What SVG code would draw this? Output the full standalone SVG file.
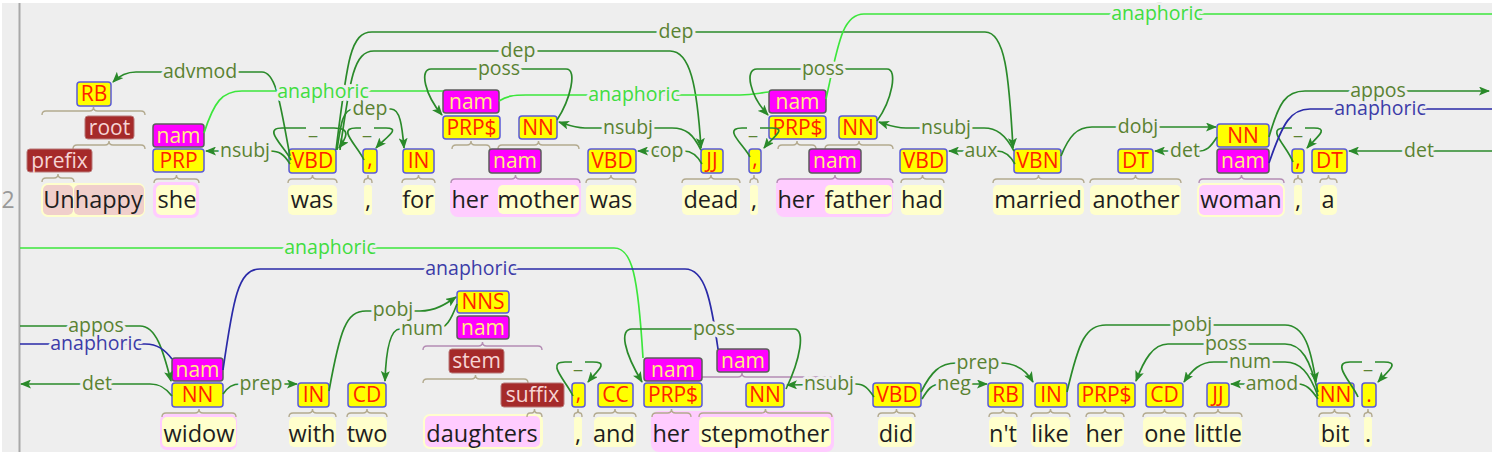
<svg xmlns="http://www.w3.org/2000/svg" width="1496" height="456" viewBox="0 0 1496 456">
<defs>
<marker id="ag" markerUnits="userSpaceOnUse" markerWidth="11" markerHeight="9" refX="10" refY="4.5" orient="auto">
<path d="M0,0 L11,4.5 L0,9 L2.5,4.5 z" fill="#2a8a2a"/>
</marker>
</defs>
<style>
.tok{font-family:"Open Sans","DejaVu Sans",sans-serif;font-size:23.5px;fill:#1e1e1e;text-anchor:middle}
.bg{fill:#ffffcc}
.pk{fill:#ffccff}
.sal{fill:#f0cfcb}
.py{fill:#ffff00;stroke:#5a5ad8;stroke-width:1.5}
.nm{fill:#ff00ff;stroke:#5c5c5c;stroke-width:1.5}
.brn{fill:#a52a2a;stroke:#b87878;stroke-width:1}
.pt{font-family:"Open Sans","DejaVu Sans",sans-serif;font-size:21px;fill:#ff2200;text-anchor:middle}
.nt{fill:#ffee80}
.bt{fill:#f6d4d4}
.brk{fill:none;stroke:#b3aa8e;stroke-width:1.4}
.brp{fill:none;stroke:#b48cb4;stroke-width:1.4}
.arc{fill:none;stroke:#2a8a2a;stroke-width:1.7}
.ana{fill:none;stroke:#3ce63c;stroke-width:1.7}
.anb{fill:none;stroke:#2a2aa8;stroke-width:1.7}
.lab{font-family:"Open Sans","DejaVu Sans",sans-serif;font-size:19.5px;fill:#5a8232;text-anchor:middle;paint-order:stroke;stroke:#eeeeee;stroke-width:6;stroke-linejoin:round}
.lg{fill:#40dd40}
.lb{fill:#3c3ca8}
.gap{fill:#eeeeee}
</style>
<rect x="0" y="0" width="1496" height="456" fill="#ffffff"/>
<rect x="2" y="3" width="1490" height="449" fill="#eeeeee"/>
<line x1="19.5" y1="3" x2="19.5" y2="452" stroke="#a8a8a8" stroke-width="2"/>
<text x="8" y="208" style="font-family:'Open Sans','DejaVu Sans',sans-serif;font-size:23px;fill:#999;text-anchor:middle">2</text>

<g id="nodes">
<g id="t-unhappy">
<rect x="41" y="183" width="104" height="34" rx="7" class="bg"/>
<rect x="43" y="185" width="30" height="30" rx="5" class="sal"/>
<rect x="74" y="185" width="70" height="30" rx="5" class="sal"/>
<path class="brk" d="M42,182 Q42,178 46,178 L54,178 Q58,178 58,174 Q58,178 62,178 L70,178 Q74,178 74,182"/>
<path class="brk" d="M73,149 Q73,145 77,145 L105,145 Q109,145 109,141 Q109,145 113,145 L141,145 Q145,145 145,149"/>
<path class="brk" d="M42,115 Q42,111 46,111 L89.5,111 Q93.5,111 93.5,107 Q93.5,111 97.5,111 L141,111 Q145,111 145,115"/>
<rect x="77" y="82" width="34" height="24" rx="3" class="py"/><text x="94" y="101" class="pt">RB</text>
<rect x="85" y="116" width="49" height="23" rx="3" class="brn"/><text x="109.5" y="134.5" class="pt bt">root</text>
<rect x="27" y="149" width="65" height="23" rx="3" class="brn"/><text x="59.5" y="167.5" class="pt bt">prefix</text>
<text x="93" y="208" class="tok">Unhappy</text>
</g>
<g id="t-she">
<rect x="153" y="182" width="46" height="36" rx="7" class="pk"/>
<rect x="156" y="185" width="40" height="30" rx="5" class="bg"/>
<path class="brk" d="M154,183 Q154,179 158,179 L172.5,179 Q176.5,179 176.5,175 Q176.5,179 180.5,179 L195,179 Q199,179 199,183"/>
<rect x="153" y="124" width="51" height="23" rx="3" class="nm"/><text x="178.5" y="142.5" class="pt nt">nam</text>
<rect x="153" y="149" width="51" height="23" rx="3" class="py"/><text x="178.5" y="167.5" class="pt">PRP</text>
<text x="177" y="208" class="tok">she</text>
</g>
<g id="t-was1">
<rect x="288" y="185" width="49" height="30" rx="5" class="bg"/>
<path class="brk" d="M288,183 Q288,179 292,179 L308.5,179 Q312.5,179 312.5,175 Q312.5,179 316.5,179 L333,179 Q337,179 337,183"/>
<rect x="289" y="149" width="47" height="24" rx="3" class="py"/><text x="312.5" y="168" class="pt">VBD</text>
<text x="312" y="208" class="tok">was</text>
</g>
<g id="t-comma1">
<rect x="364" y="185" width="8" height="30" rx="3" class="bg"/>
<path class="brk" d="M364,183 Q364,179 366,179 Q368,179 368,175 Q368,179 370,179 Q372,179 372,183"/>
<rect x="363" y="149" width="14" height="24" rx="3" class="py"/><text x="370" y="166" class="pt">,</text>
<text x="368" y="208" class="tok">,</text>
</g>
<g id="t-for">
<rect x="402" y="185" width="33" height="30" rx="5" class="bg"/>
<path class="brk" d="M402,183 Q402,179 406,179 L414.5,179 Q418.5,179 418.5,175 Q418.5,179 422.5,179 L431,179 Q435,179 435,183"/>
<rect x="403" y="149" width="31" height="24" rx="3" class="py"/><text x="418.5" y="168" class="pt">IN</text>
<text x="418" y="208" class="tok">for</text>
</g>
<g id="t-hermother">
<rect x="450" y="178" width="131" height="39" rx="8" class="pk"/>
<rect x="498" y="185" width="81" height="29" rx="5" class="bg"/>
<path class="brk" d="M452,149 Q452,145 456,145 L467,145 Q471,145 471,141 Q471,145 475,145 L486,145 Q490,145 490,149"/>
<path class="brk" d="M498,149 Q498,145 502,145 L534.5,145 Q538.5,145 538.5,141 Q538.5,145 542.5,145 L575,145 Q579,145 579,149"/>
<path class="brp" d="M451,183 Q451,179 455,179 L511.5,179 Q515.5,179 515.5,175 Q515.5,179 519.5,179 L576,179 Q580,179 580,183"/>
<rect x="443" y="90" width="56" height="23" rx="3" class="nm"/><text x="471" y="108.5" class="pt nt">nam</text>
<rect x="443" y="116" width="57" height="23" rx="3" class="py"/><text x="471.5" y="134.5" class="pt">PRP$</text>
<rect x="519" y="116" width="38" height="23" rx="3" class="py"/><text x="538" y="134.5" class="pt">NN</text>
<rect x="489" y="149" width="52" height="24" rx="3" class="nm"/><text x="515" y="168" class="pt nt">nam</text>
<text x="470" y="208" class="tok">her</text>
<text x="538" y="208" class="tok">mother</text>
</g>
<g id="t-was2">
<rect x="586" y="185" width="50" height="30" rx="5" class="bg"/>
<path class="brk" d="M586,183 Q586,179 590,179 L607,179 Q611,179 611,175 Q611,179 615,179 L632,179 Q636,179 636,183"/>
<rect x="588" y="149" width="48" height="24" rx="3" class="py"/><text x="612" y="168" class="pt">VBD</text>
<text x="611" y="208" class="tok">was</text>
</g>
<g id="t-dead">
<rect x="682" y="185" width="58" height="30" rx="5" class="bg"/>
<path class="brk" d="M682,183 Q682,179 686,179 L707,179 Q711,179 711,175 Q711,179 715,179 L736,179 Q740,179 740,183"/>
<rect x="701" y="149" width="22" height="24" rx="3" class="py"/><text x="712" y="168" class="pt">JJ</text>
<text x="711" y="208" class="tok">dead</text>
</g>
<g id="t-comma2">
<rect x="750" y="185" width="8" height="30" rx="3" class="bg"/>
<path class="brk" d="M750,183 Q750,179 752,179 Q754,179 754,175 Q754,179 756,179 Q758,179 758,183"/>
<rect x="749" y="149" width="12" height="24" rx="3" class="py"/><text x="755" y="166" class="pt">,</text>
<text x="754" y="208" class="tok">,</text>
</g>
<g id="t-herfather">
<rect x="776" y="178" width="117" height="39" rx="8" class="pk"/>
<rect x="825" y="185" width="67" height="29" rx="5" class="bg"/>
<path class="brk" d="M778,149 Q778,145 782,145 L793,145 Q797,145 797,141 Q797,145 801,145 L812,145 Q816,145 816,149"/>
<path class="brk" d="M825,149 Q825,145 829,145 L855,145 Q859,145 859,141 Q859,145 863,145 L889,145 Q893,145 893,149"/>
<path class="brp" d="M777,183 Q777,179 781,179 L831,179 Q835,179 835,175 Q835,179 839,179 L889,179 Q893,179 893,183"/>
<rect x="769" y="90" width="57" height="23" rx="3" class="nm"/><text x="797.5" y="108.5" class="pt nt">nam</text>
<rect x="769" y="116" width="57" height="23" rx="3" class="py"/><text x="797.5" y="134.5" class="pt">PRP$</text>
<rect x="839" y="116" width="38" height="23" rx="3" class="py"/><text x="858" y="134.5" class="pt">NN</text>
<rect x="809" y="149" width="52" height="24" rx="3" class="nm"/><text x="835" y="168" class="pt nt">nam</text>
<text x="796" y="208" class="tok">her</text>
<text x="858" y="208" class="tok">father</text>
</g>
<g id="t-had">
<rect x="901" y="185" width="43" height="30" rx="5" class="bg"/>
<path class="brk" d="M901,183 Q901,179 905,179 L918.5,179 Q922.5,179 922.5,175 Q922.5,179 926.5,179 L940,179 Q944,179 944,183"/>
<rect x="900" y="149" width="47" height="24" rx="3" class="py"/><text x="923.5" y="168" class="pt">VBD</text>
<text x="922" y="208" class="tok">had</text>
</g>
<g id="t-married">
<rect x="993" y="185" width="91" height="30" rx="5" class="bg"/>
<path class="brk" d="M993,183 Q993,179 997,179 L1034.5,179 Q1038.5,179 1038.5,175 Q1038.5,179 1042.5,179 L1080,179 Q1084,179 1084,183"/>
<rect x="1014" y="149" width="47" height="24" rx="3" class="py"/><text x="1037.5" y="168" class="pt">VBN</text>
<text x="1038" y="208" class="tok">married</text>
</g>
<g id="t-another">
<rect x="1090" y="185" width="91" height="30" rx="5" class="bg"/>
<path class="brk" d="M1090,183 Q1090,179 1094,179 L1131.5,179 Q1135.5,179 1135.5,175 Q1135.5,179 1139.5,179 L1177,179 Q1181,179 1181,183"/>
<rect x="1118" y="149" width="35" height="24" rx="3" class="py"/><text x="1135.5" y="168" class="pt">DT</text>
<text x="1136" y="208" class="tok">another</text>
</g>
<g id="t-woman">
<rect x="1197" y="183" width="88" height="34" rx="7" class="bg"/>
<rect x="1199" y="185" width="84" height="30" rx="5" class="pk"/>
<path class="brp" d="M1199,183 Q1199,179 1203,179 L1237.5,179 Q1241.5,179 1241.5,175 Q1241.5,179 1245.5,179 L1280,179 Q1284,179 1284,183"/>
<rect x="1217" y="124" width="52" height="23" rx="3" class="py"/><text x="1243" y="142.5" class="pt">NN</text>
<rect x="1217" y="149" width="52" height="24" rx="3" class="nm"/><text x="1243" y="168" class="pt nt">nam</text>
<text x="1241" y="208" class="tok">woman</text>
</g>
<g id="t-comma3">
<rect x="1294" y="185" width="8" height="30" rx="3" class="bg"/>
<path class="brk" d="M1294,183 Q1294,179 1296,179 Q1298,179 1298,175 Q1298,179 1300,179 Q1302,179 1302,183"/>
<rect x="1292" y="149" width="12" height="24" rx="3" class="py"/><text x="1298" y="166" class="pt">,</text>
<text x="1298" y="208" class="tok">,</text>
</g>
<g id="t-a">
<rect x="1320" y="185" width="17" height="30" rx="5" class="bg"/>
<path class="brk" d="M1320,183 Q1320,179 1323,179 L1325.5,179 Q1328.5,179 1328.5,175 Q1328.5,179 1331.5,179 L1334,179 Q1337,179 1337,183"/>
<rect x="1312" y="149" width="35" height="24" rx="3" class="py"/><text x="1329.5" y="168" class="pt">DT</text>
<text x="1328" y="208" class="tok">a</text>
</g>

<g id="t-widow">
<rect x="160" y="414" width="77" height="36" rx="7" class="pk"/>
<rect x="162" y="417" width="74" height="30" rx="5" class="bg"/>
<path class="brk" d="M162,417 Q162,413 166,413 L195,413 Q199,413 199,409 Q199,413 203,413 L232,413 Q236,413 236,417"/>
<rect x="172" y="358" width="51" height="23" rx="3" class="nm"/><text x="197.5" y="376.5" class="pt nt">nam</text>
<rect x="172" y="383" width="51" height="24" rx="3" class="py"/><text x="197.5" y="402" class="pt">NN</text>
<text x="199" y="442" class="tok">widow</text>
</g>
<g id="t-with">
<rect x="289" y="417" width="47" height="30" rx="5" class="bg"/>
<path class="brk" d="M289,417 Q289,413 293,413 L308.5,413 Q312.5,413 312.5,409 Q312.5,413 316.5,413 L332,413 Q336,413 336,417"/>
<rect x="298" y="383" width="31" height="24" rx="3" class="py"/><text x="313.5" y="402" class="pt">IN</text>
<text x="312" y="442" class="tok">with</text>
</g>
<g id="t-two">
<rect x="347" y="417" width="40" height="30" rx="5" class="bg"/>
<path class="brk" d="M347,417 Q347,413 351,413 L363,413 Q367,413 367,409 Q367,413 371,413 L383,413 Q387,413 387,417"/>
<rect x="348" y="383" width="38" height="24" rx="3" class="py"/><text x="367" y="402" class="pt">CD</text>
<text x="367" y="442" class="tok">two</text>
</g>
<g id="t-daughters">
<rect x="423" y="414" width="120" height="35" rx="7" class="bg"/>
<rect x="425" y="416" width="115" height="31" rx="5" class="pk"/>
<path class="brp" d="M423,350 Q423,346 427,346 L478.5,346 Q482.5,346 482.5,342 Q482.5,346 486.5,346 L538,346 Q542,346 542,350"/>
<path class="brk" d="M423,383 Q423,379 427,379 L471.5,379 Q475.5,379 475.5,375 Q475.5,379 479.5,379 L524,379 Q528,379 528,383"/>
<path class="brk" d="M527,417 Q527,413 530,413 L531.5,413 Q534.5,413 534.5,409 Q534.5,413 537.5,413 L539,413 Q542,413 542,417"/>
<rect x="457" y="291" width="52" height="22" rx="3" class="py"/><text x="483" y="309" class="pt">NNS</text>
<rect x="457" y="316" width="52" height="23" rx="3" class="nm"/><text x="483" y="334.5" class="pt nt">nam</text>
<rect x="449" y="349" width="55" height="24" rx="3" class="brn"/><text x="476.5" y="368" class="pt bt">stem</text>
<rect x="501" y="383" width="63" height="24" rx="3" class="brn"/><text x="532.5" y="402" class="pt bt">suffix</text>
<text x="482" y="442" class="tok">daughters</text>
</g>
<g id="t-comma4">
<rect x="574" y="417" width="8" height="30" rx="3" class="bg"/>
<path class="brk" d="M574,417 Q574,413 576,413 Q578,413 578,409 Q578,413 580,413 Q582,413 582,417"/>
<rect x="572" y="383" width="13" height="24" rx="3" class="py"/><text x="578.5" y="400" class="pt">,</text>
<text x="578" y="442" class="tok">,</text>
</g>
<g id="t-and">
<rect x="594" y="417" width="42" height="30" rx="5" class="bg"/>
<path class="brk" d="M594,417 Q594,413 598,413 L611,413 Q615,413 615,409 Q615,413 619,413 L632,413 Q636,413 636,417"/>
<rect x="598" y="383" width="35" height="24" rx="3" class="py"/><text x="615.5" y="402" class="pt">CC</text>
<text x="614" y="442" class="tok">and</text>
</g>
<g id="t-herstepmother">
<rect x="651" y="411" width="183" height="41" rx="8" class="pk"/>
<rect x="699" y="417" width="132" height="30" rx="5" class="bg"/>
<path class="brk" d="M652,417 Q652,413 656,413 L667.5,413 Q671.5,413 671.5,409 Q671.5,413 675.5,413 L687,413 Q691,413 691,417"/>
<path class="brp" d="M651,381 Q651,377 655,377 L738,377 Q742,377 742,373 Q742,377 746,377 L829,377 Q833,377 833,381"/>
<path class="brk" d="M699,417 Q699,413 703,413 L761.5,413 Q765.5,413 765.5,409 Q765.5,413 769.5,413 L828,413 Q832,413 832,417"/>
<rect x="644" y="358" width="58" height="23" rx="3" class="nm"/><text x="673" y="376.5" class="pt nt">nam</text>
<rect x="644" y="383" width="58" height="24" rx="3" class="py"/><text x="673" y="402" class="pt">PRP$</text>
<rect x="717" y="349" width="52" height="23" rx="3" class="nm"/><text x="743" y="367.5" class="pt nt">nam</text>
<rect x="746" y="383" width="38" height="24" rx="3" class="py"/><text x="765" y="402" class="pt">NN</text>
<text x="671" y="442" class="tok">her</text>
<text x="765" y="442" class="tok">stepmother</text>
</g>
<g id="t-did">
<rect x="878" y="417" width="37" height="30" rx="5" class="bg"/>
<path class="brk" d="M878,417 Q878,413 882,413 L892.5,413 Q896.5,413 896.5,409 Q896.5,413 900.5,413 L911,413 Q915,413 915,417"/>
<rect x="873" y="383" width="48" height="24" rx="3" class="py"/><text x="897" y="402" class="pt">VBD</text>
<text x="896" y="442" class="tok">did</text>
</g>
<g id="t-nt">
<rect x="989" y="417" width="28" height="30" rx="5" class="bg"/>
<path class="brk" d="M989,417 Q989,413 993,413 L999,413 Q1003,413 1003,409 Q1003,413 1007,413 L1013,413 Q1017,413 1017,417"/>
<rect x="988" y="383" width="35" height="24" rx="3" class="py"/><text x="1005.5" y="402" class="pt">RB</text>
<text x="1003" y="442" class="tok">n't</text>
</g>
<g id="t-like">
<rect x="1031" y="417" width="39" height="30" rx="5" class="bg"/>
<path class="brk" d="M1031,417 Q1031,413 1035,413 L1046.5,413 Q1050.5,413 1050.5,409 Q1050.5,413 1054.5,413 L1066,413 Q1070,413 1070,417"/>
<rect x="1035" y="383" width="32" height="24" rx="3" class="py"/><text x="1051" y="402" class="pt">IN</text>
<text x="1050" y="442" class="tok">like</text>
</g>
<g id="t-her3">
<rect x="1086" y="417" width="38" height="30" rx="5" class="bg"/>
<path class="brk" d="M1086,417 Q1086,413 1090,413 L1101,413 Q1105,413 1105,409 Q1105,413 1109,413 L1120,413 Q1124,413 1124,417"/>
<rect x="1078" y="383" width="57" height="24" rx="3" class="py"/><text x="1106.5" y="402" class="pt">PRP$</text>
<text x="1104" y="442" class="tok">her</text>
</g>
<g id="t-one">
<rect x="1143" y="417" width="43" height="30" rx="5" class="bg"/>
<path class="brk" d="M1143,417 Q1143,413 1147,413 L1160.5,413 Q1164.5,413 1164.5,409 Q1164.5,413 1168.5,413 L1182,413 Q1186,413 1186,417"/>
<rect x="1146" y="383" width="37" height="24" rx="3" class="py"/><text x="1164.5" y="402" class="pt">CD</text>
<text x="1165" y="442" class="tok">one</text>
</g>
<g id="t-little">
<rect x="1194" y="417" width="48" height="30" rx="5" class="bg"/>
<path class="brk" d="M1194,417 Q1194,413 1198,413 L1214,413 Q1218,413 1218,409 Q1218,413 1222,413 L1238,413 Q1242,413 1242,417"/>
<rect x="1207" y="383" width="22" height="24" rx="3" class="py"/><text x="1218" y="402" class="pt">JJ</text>
<text x="1218" y="442" class="tok">little</text>
</g>
<g id="t-bit">
<rect x="1319" y="417" width="31" height="30" rx="5" class="bg"/>
<path class="brk" d="M1319,417 Q1319,413 1323,413 L1330.5,413 Q1334.5,413 1334.5,409 Q1334.5,413 1338.5,413 L1346,413 Q1350,413 1350,417"/>
<rect x="1317" y="383" width="37" height="24" rx="3" class="py"/><text x="1335.5" y="402" class="pt">NN</text>
<text x="1335" y="442" class="tok">bit</text>
</g>
<g id="t-period">
<rect x="1364" y="417" width="8" height="30" rx="3" class="bg"/>
<path class="brk" d="M1364,417 Q1364,413 1366,413 Q1368,413 1368,409 Q1368,413 1370,413 Q1372,413 1372,417"/>
<rect x="1362" y="383" width="14" height="24" rx="3" class="py"/><text x="1369" y="402" class="pt">.</text>
<text x="1368" y="442" class="tok">.</text>
</g>
</g>

<g id="connectors">
<path class="arc" marker-end="url(#ag)" d="M290,156 C281,110 277,72 262,72 L136,72 C126,72 119,76 113,82"/>
<path class="arc" marker-end="url(#ag)" d="M290,164 C284,154 279,151 270,151 L206,151"/>
<path class="arc" marker-end="url(#ag)" d="M291,160 C284,146 262,128 282,128 L334,128 C352,128 346,138 339,148"/>
<path class="arc" marker-end="url(#ag)" d="M364,160 C358,146 336,128 356,128 L386,128 C402,128 385,138 376,148"/>
<path class="arc" marker-end="url(#ag)" d="M337,150 C341,122 343,109 354,109 L391,109 C400,109 402,125 404,148"/>
<path class="arc" marker-end="url(#ag)" d="M340,150 C350,78 354,51 374,51 L670,51 C690,51 697,85 701,148"/>
<path class="arc" marker-end="url(#ag)" d="M336,150 C347,62 350,32 372,32 L985,32 C1005,32 1009,75 1013,148"/>
<path class="ana" d="M204,133 C214,102 222,91 242,91 L443,91"/>
<path class="ana" d="M499,101 C507,96 513,95 526,95 L740,95 C753,95 759,93 769,92"/>
<path class="ana" d="M826,99 C838,45 842,14 864,14 L1492,14"/>
<path class="arc" marker-end="url(#ag)" d="M557,120 C570,100 578,69 566,69 L431,69 C419,69 425,95 442,115"/>
<path class="arc" marker-end="url(#ag)" d="M701,150 C693,134 686,128 672,128 L585,128 C575,128 568,125 559,122"/>
<path class="arc" marker-end="url(#ag)" d="M702,164 C697,155 692,151 684,151 L638,151"/>
<path class="arc" marker-end="url(#ag)" d="M750,157 C744,145 722,128 742,128 L772,128 C788,128 772,138 764,148"/>
<path class="arc" marker-end="url(#ag)" d="M877,121 C892,100 898,69 887,69 L757,69 C744,69 750,96 768,115"/>
<path class="arc" marker-end="url(#ag)" d="M1014,151 C1005,134 996,128 984,128 L906,128 C895,128 888,125 879,122"/>
<path class="arc" marker-end="url(#ag)" d="M1015,164 C1010,155 1005,151 997,151 L949,151"/>
<path class="arc" marker-end="url(#ag)" d="M1061,156 C1069,136 1077,127 1092,127 L1216,127"/>
<path class="arc" marker-end="url(#ag)" d="M1217,137 C1210,148 1206,151 1199,151 L1155,151"/>
<path class="arc" marker-end="url(#ag)" d="M1293,162 C1287,146 1265,128 1285,128 L1314,128 C1330,128 1316,138 1307,148"/>
<path class="arc" marker-end="url(#ag)" d="M1269,137 C1279,102 1286,91 1305,91 L1489,91"/>
<path class="anb" d="M1269,163 C1283,122 1291,109 1310,109 L1492,109"/>
<path class="arc" marker-end="url(#ag)" d="M1492,151 L1349,151"/>

<path class="ana" d="M20,248 L614,248 C632,248 638,275 643,358"/>
<path class="arc" marker-end="url(#ag)" d="M20,326 L140,326 C156,326 163,350 171,381"/>
<path class="anb" d="M20,344 L145,344 C158,344 165,350 172,359"/>
<path class="arc" marker-end="url(#ag)" d="M172,396 C166,388 160,384 150,384 L21,384"/>
<path class="anb" d="M223,370 C233,300 238,269 260,269 L685,269 C705,269 711,300 718,349"/>
<path class="arc" marker-end="url(#ag)" d="M223,394 C228,387 232,384 241,384 L297,384"/>
<path class="arc" marker-end="url(#ag)" d="M329,391 C340,330 346,311 366,311 L420,311 C435,311 446,304 456,297"/>
<path class="arc" marker-end="url(#ag)" d="M457,304 C451,320 446,329 436,329 L400,329 C390,329 386,350 385,381"/>
<path class="arc" marker-end="url(#ag)" d="M573,396 C567,382 545,362 565,362 L593,362 C610,362 596,372 588,382"/>
<path class="arc" marker-end="url(#ag)" d="M786,389 C800,360 806,329 794,329 L632,329 C619,329 624,352 642,382"/>
<path class="arc" marker-end="url(#ag)" d="M874,397 C868,388 864,384 856,384 L787,385"/>
<path class="arc" marker-end="url(#ag)" d="M921,392 C931,372 940,363 956,363 L1000,363 C1015,363 1026,370 1033,382"/>
<path class="arc" marker-end="url(#ag)" d="M922,399 C928,389 932,384 941,384 L987,384"/>
<path class="arc" marker-end="url(#ag)" d="M1067,392 C1079,340 1086,325 1106,325 L1285,325 C1305,325 1311,350 1316,382"/>
<path class="arc" marker-end="url(#ag)" d="M1318,392 C1310,360 1302,344 1285,344 L1168,344 C1153,344 1144,360 1136,381"/>
<path class="arc" marker-end="url(#ag)" d="M1318,396 C1309,372 1300,362 1285,362 L1214,362 C1200,362 1192,370 1184,382"/>
<path class="arc" marker-end="url(#ag)" d="M1318,399 C1311,389 1306,384 1298,384 L1231,384"/>
<path class="arc" marker-end="url(#ag)" d="M1358,397 C1352,383 1330,362 1350,362 L1384,362 C1401,362 1387,372 1378,382"/>

<g id="arc-labels">
<text x="200" y="78" class="lab">advmod</text>
<text x="245" y="157" class="lab">nsubj</text>
<rect x="306" y="125.5" width="14" height="5" class="gap"/><text x="313" y="134" class="lab">_</text>
<rect x="361" y="125.5" width="13" height="5" class="gap"/><text x="367" y="134" class="lab">_</text>
<text x="370" y="115" class="lab">dep</text>
<text x="518" y="57" class="lab">dep</text>
<text x="676" y="38" class="lab">dep</text>
<text x="323" y="98" class="lab lg">anaphoric</text>
<text x="634" y="101" class="lab lg">anaphoric</text>
<text x="1157" y="20" class="lab lg">anaphoric</text>
<text x="499" y="75" class="lab">poss</text>
<text x="628" y="134" class="lab">nsubj</text>
<text x="667" y="157" class="lab">cop</text>
<rect x="747" y="125.5" width="13" height="5" class="gap"/><text x="753" y="134" class="lab">_</text>
<text x="823" y="75" class="lab">poss</text>
<text x="946" y="134" class="lab">nsubj</text>
<text x="981" y="157" class="lab">aux</text>
<text x="1138" y="133" class="lab">dobj</text>
<text x="1185" y="157" class="lab">det</text>
<rect x="1292" y="125.5" width="13" height="5" class="gap"/><text x="1298" y="134" class="lab">_</text>
<text x="1378" y="97" class="lab">appos</text>
<text x="1380" y="115" class="lab lb">anaphoric</text>
<text x="1419" y="157" class="lab">det</text>

<text x="330" y="254" class="lab lg">anaphoric</text>
<text x="471" y="275" class="lab lb">anaphoric</text>
<text x="96" y="332" class="lab">appos</text>
<text x="96" y="350" class="lab lb">anaphoric</text>
<text x="97" y="390" class="lab">det</text>
<text x="261" y="390" class="lab">prep</text>
<text x="393" y="316" class="lab">pobj</text>
<text x="422" y="335" class="lab">num</text>
<rect x="572" y="359.5" width="13" height="5" class="gap"/><text x="578" y="368" class="lab">_</text>
<text x="714" y="335" class="lab">poss</text>
<text x="829" y="390" class="lab">nsubj</text>
<text x="978" y="369" class="lab">prep</text>
<text x="954" y="390" class="lab">neg</text>
<text x="1192" y="331" class="lab">pobj</text>
<text x="1226" y="350" class="lab">poss</text>
<text x="1250" y="368" class="lab">num</text>
<text x="1272" y="390" class="lab">amod</text>
<rect x="1362" y="359.5" width="13" height="5" class="gap"/><text x="1368" y="368" class="lab">_</text>
</g>
</g>
</svg>
